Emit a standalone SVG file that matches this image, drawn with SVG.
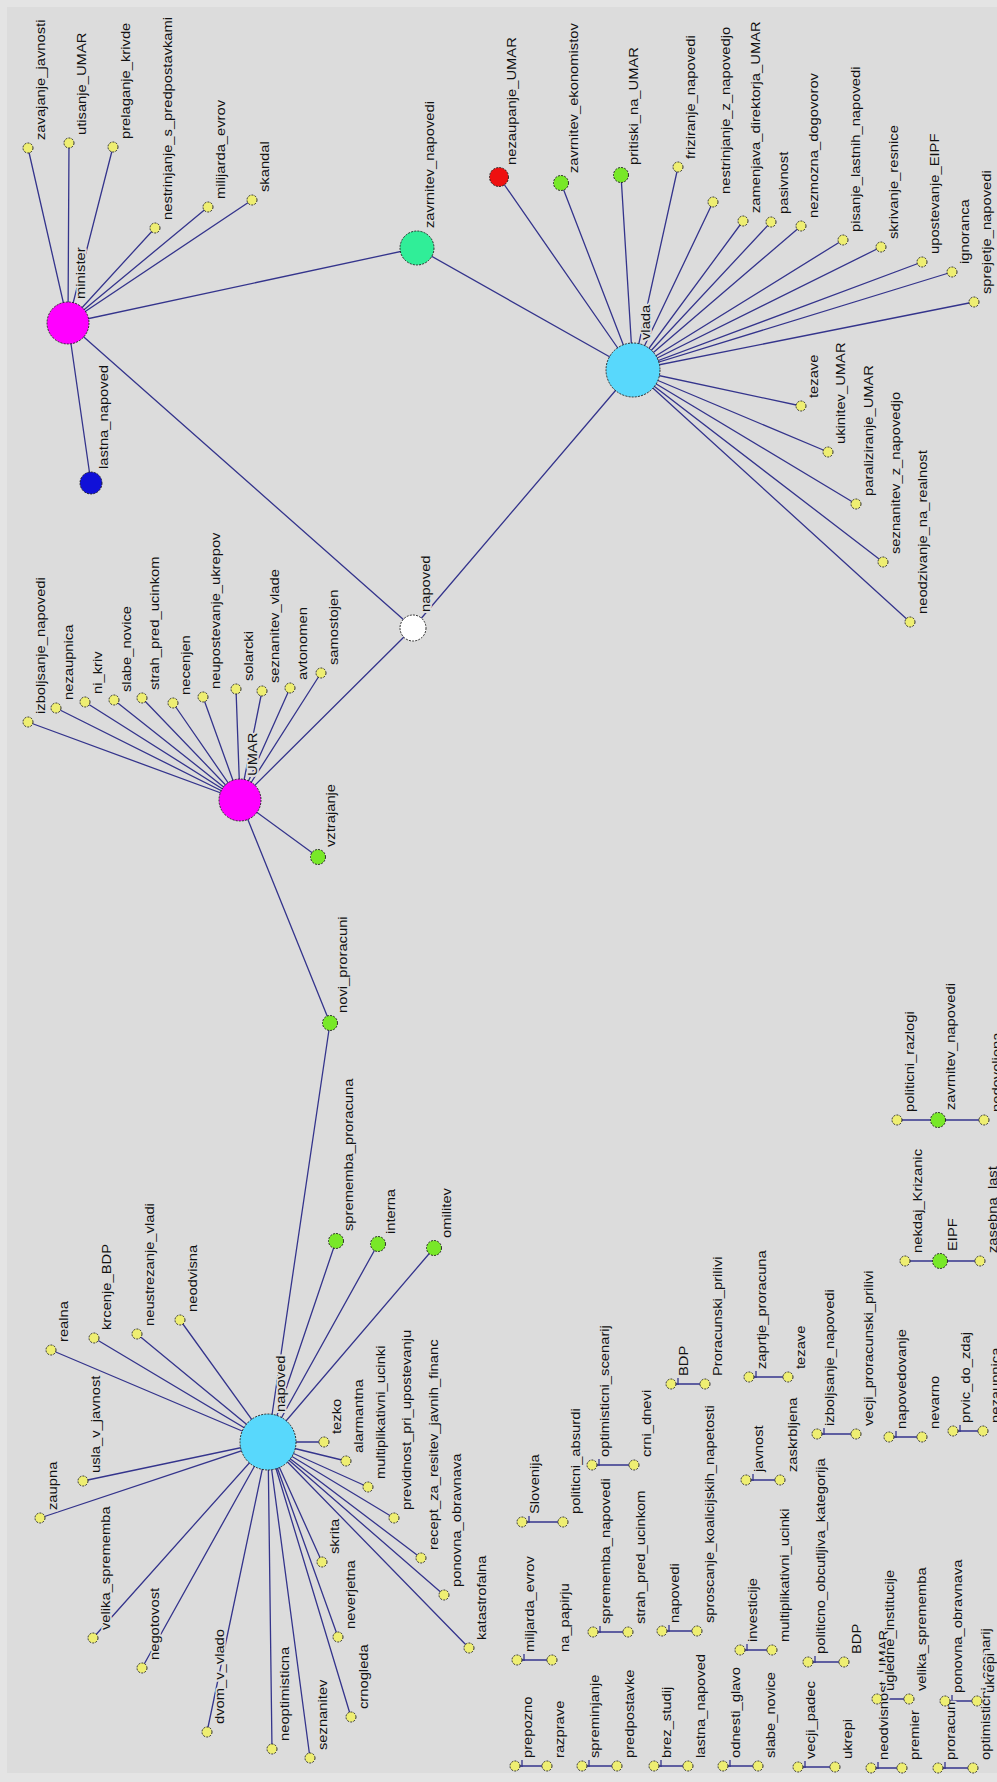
<svg xmlns="http://www.w3.org/2000/svg" width="997" height="1782" viewBox="0 0 997 1782">
<style>
.e{stroke:#34348c;stroke-width:1.3;fill:none}
.n{stroke:#1e1e1e;stroke-width:0.9;stroke-dasharray:2 1.2}
.y{fill:#eeee72}
.g{fill:#78e828}
.m{fill:#ff00ff}
.c{fill:#58d8fc}
.r{fill:#ee1010}
.b{fill:#1010d8}
.t{fill:#30ee98}
.w{fill:#ffffff}
text{font-family:"Liberation Sans",Arial,sans-serif;font-size:12.5px;fill:#111;stroke:#dcdcdc;stroke-width:3.5px;paint-order:stroke;stroke-linejoin:round}
</style>
<rect width="997" height="1782" fill="#e4e4e4"/>
<rect x="7" y="7" width="990" height="1766" fill="#dcdcdc"/>
<g id="connectors">
<path class="e" d="M68 323L28 148M68 323L69 143M68 323L113 147M68 323L155 228M68 323L208 207M68 323L252 200M68 323L91 483M68 323L417 248M68 323L413 628"/>
<path class="e" d="M633 370L417 248M633 370L413 628M633 370L499 177M633 370L561 183M633 370L621 175M633 370L678 167M633 370L713 202M633 370L743 221M633 370L771 222M633 370L801 226M633 370L843 240M633 370L881 247M633 370L922 262M633 370L952 272M633 370L974 302M633 370L801 406M633 370L828 452M633 370L856 504M633 370L883 562M633 370L910 622"/>
<path class="e" d="M240 800L413 628M240 800L330 1023M240 800L318 857M240 800L28 722M240 800L56 708M240 800L85 702M240 800L114 700M240 800L142 698M240 800L173 703M240 800L203 697M240 800L236 689M240 800L262 691M240 800L290 688M240 800L321 673"/>
<path class="e" d="M268 1442L330 1023M268 1442L336 1241M268 1442L378 1244M268 1442L434 1248M268 1442L51 1350M268 1442L94 1338M268 1442L137 1334M268 1442L180 1320M268 1442L40 1518M268 1442L83 1481M268 1442L93 1638M268 1442L142 1668M268 1442L207 1732M268 1442L272 1749M268 1442L310 1758M268 1442L351 1717M268 1442L338 1637M268 1442L322 1562M268 1442L324 1442M268 1442L346 1461M268 1442L368 1487M268 1442L394 1518M268 1442L421 1558M268 1442L444 1595M268 1442L469 1648"/>
<path class="e" d="M515 1766H547M582 1766H617M654 1766H688M723 1766H758M798 1767H835M871 1768H902M938 1768H973M517 1660H552M593 1632H628M662 1631H697M740 1650H772M808 1662H844M877 1699H909M945 1701H977M522 1522H563M592 1465H634M671 1384H705M746 1480H780M817 1434H856M889 1437H922M953 1431H983M749 1377H788M897 1120H984M905 1261H980"/>
<path class="e" d="M522 1760v7M589 1760v7M661 1760v7M730 1760v7M805 1761v7M878 1762v7M945 1762v7M524 1654v7M600 1626v7M669 1625v7M747 1644v7M815 1656v7M884 1693v7M952 1695v7M529 1516v7M599 1459v7M678 1378v7M753 1474v7M824 1428v7M896 1431v7M960 1425v7M756 1371v7"/>
</g>
<g id="minister"><circle class="n m" cx="68" cy="323" r="21"/><text transform="translate(85 299) rotate(-90) scale(1.18 1)">minister</text></g>
<g id="zavajanje_javnosti"><circle class="n y" cx="28" cy="148" r="5"/><text transform="translate(45 140) rotate(-90) scale(1.18 1)">zavajanje_javnosti</text></g>
<g id="utisanje_UMAR"><circle class="n y" cx="69" cy="143" r="5"/><text transform="translate(86 135) rotate(-90) scale(1.18 1)">utisanje_UMAR</text></g>
<g id="prelaganje_krivde"><circle class="n y" cx="113" cy="147" r="5"/><text transform="translate(130 139) rotate(-90) scale(1.18 1)">prelaganje_krivde</text></g>
<g id="nestrinjanje_s_predpostavkami"><circle class="n y" cx="155" cy="228" r="5"/><text transform="translate(172 220) rotate(-90) scale(1.18 1)">nestrinjanje_s_predpostavkami</text></g>
<g id="milijarda_evrov"><circle class="n y" cx="208" cy="207" r="5"/><text transform="translate(225 199) rotate(-90) scale(1.18 1)">milijarda_evrov</text></g>
<g id="skandal"><circle class="n y" cx="252" cy="200" r="5"/><text transform="translate(269 192) rotate(-90) scale(1.18 1)">skandal</text></g>
<g id="lastna_napoved_1"><circle class="n b" cx="91" cy="483" r="11"/><text transform="translate(108 469) rotate(-90) scale(1.18 1)">lastna_napoved</text></g>
<g id="zavrnitev_napovedi_1"><circle class="n t" cx="417" cy="248" r="17"/><text transform="translate(434 228) rotate(-90) scale(1.18 1)">zavrnitev_napovedi</text></g>
<g id="napoved_1"><circle class="n w" cx="413" cy="628" r="13"/><text transform="translate(430 612) rotate(-90) scale(1.18 1)">napoved</text></g>
<g id="vlada"><circle class="n c" cx="633" cy="370" r="27"/><text transform="translate(650 340) rotate(-90) scale(1.18 1)">vlada</text></g>
<g id="nezaupanje_UMAR"><circle class="n r" cx="499" cy="177" r="9.5"/><text transform="translate(516 165) rotate(-90) scale(1.18 1)">nezaupanje_UMAR</text></g>
<g id="zavrnitev_ekonomistov"><circle class="n g" cx="561" cy="183" r="7.5"/><text transform="translate(578 173) rotate(-90) scale(1.18 1)">zavrnitev_ekonomistov</text></g>
<g id="pritiski_na_UMAR"><circle class="n g" cx="621" cy="175" r="7.5"/><text transform="translate(638 165) rotate(-90) scale(1.18 1)">pritiski_na_UMAR</text></g>
<g id="friziranje_napovedi"><circle class="n y" cx="678" cy="167" r="5"/><text transform="translate(695 159) rotate(-90) scale(1.18 1)">friziranje_napovedi</text></g>
<g id="nestrinjanje_z_napovedjo"><circle class="n y" cx="713" cy="202" r="5"/><text transform="translate(730 194) rotate(-90) scale(1.18 1)">nestrinjanje_z_napovedjo</text></g>
<g id="zamenjava_direktorja_UMAR"><circle class="n y" cx="743" cy="221" r="5"/><text transform="translate(760 213) rotate(-90) scale(1.18 1)">zamenjava_direktorja_UMAR</text></g>
<g id="pasivnost"><circle class="n y" cx="771" cy="222" r="5"/><text transform="translate(788 214) rotate(-90) scale(1.18 1)">pasivnost</text></g>
<g id="nezmozna_dogovorov"><circle class="n y" cx="801" cy="226" r="5"/><text transform="translate(818 218) rotate(-90) scale(1.18 1)">nezmozna_dogovorov</text></g>
<g id="pisanje_lastnih_napovedi"><circle class="n y" cx="843" cy="240" r="5"/><text transform="translate(860 232) rotate(-90) scale(1.18 1)">pisanje_lastnih_napovedi</text></g>
<g id="skrivanje_resnice"><circle class="n y" cx="881" cy="247" r="5"/><text transform="translate(898 239) rotate(-90) scale(1.18 1)">skrivanje_resnice</text></g>
<g id="upostevanje_EIPF"><circle class="n y" cx="922" cy="262" r="5"/><text transform="translate(939 254) rotate(-90) scale(1.18 1)">upostevanje_EIPF</text></g>
<g id="ignoranca"><circle class="n y" cx="952" cy="272" r="5"/><text transform="translate(969 264) rotate(-90) scale(1.18 1)">ignoranca</text></g>
<g id="sprejetje_napovedi"><circle class="n y" cx="974" cy="302" r="5"/><text transform="translate(991 294) rotate(-90) scale(1.18 1)">sprejetje_napovedi</text></g>
<g id="tezave_1"><circle class="n y" cx="801" cy="406" r="5"/><text transform="translate(818 398) rotate(-90) scale(1.18 1)">tezave</text></g>
<g id="ukinitev_UMAR"><circle class="n y" cx="828" cy="452" r="5"/><text transform="translate(845 444) rotate(-90) scale(1.18 1)">ukinitev_UMAR</text></g>
<g id="paraliziranje_UMAR"><circle class="n y" cx="856" cy="504" r="5"/><text transform="translate(873 496) rotate(-90) scale(1.18 1)">paraliziranje_UMAR</text></g>
<g id="seznanitev_z_napovedjo"><circle class="n y" cx="883" cy="562" r="5"/><text transform="translate(900 554) rotate(-90) scale(1.18 1)">seznanitev_z_napovedjo</text></g>
<g id="neodzivanje_na_realnost"><circle class="n y" cx="910" cy="622" r="5"/><text transform="translate(927 614) rotate(-90) scale(1.18 1)">neodzivanje_na_realnost</text></g>
<g id="UMAR"><circle class="n m" cx="240" cy="800" r="21"/><text transform="translate(257 776) rotate(-90) scale(1.18 1)">UMAR</text></g>
<g id="izboljsanje_napovedi_1"><circle class="n y" cx="28" cy="722" r="5"/><text transform="translate(45 714) rotate(-90) scale(1.18 1)">izboljsanje_napovedi</text></g>
<g id="nezaupnica_1"><circle class="n y" cx="56" cy="708" r="5"/><text transform="translate(73 700) rotate(-90) scale(1.18 1)">nezaupnica</text></g>
<g id="ni_kriv"><circle class="n y" cx="85" cy="702" r="5"/><text transform="translate(102 694) rotate(-90) scale(1.18 1)">ni_kriv</text></g>
<g id="slabe_novice_1"><circle class="n y" cx="114" cy="700" r="5"/><text transform="translate(131 692) rotate(-90) scale(1.18 1)">slabe_novice</text></g>
<g id="strah_pred_ucinkom_1"><circle class="n y" cx="142" cy="698" r="5"/><text transform="translate(159 690) rotate(-90) scale(1.18 1)">strah_pred_ucinkom</text></g>
<g id="necenjen"><circle class="n y" cx="173" cy="703" r="5"/><text transform="translate(190 695) rotate(-90) scale(1.18 1)">necenjen</text></g>
<g id="neupostevanje_ukrepov"><circle class="n y" cx="203" cy="697" r="5"/><text transform="translate(220 689) rotate(-90) scale(1.18 1)">neupostevanje_ukrepov</text></g>
<g id="solarcki"><circle class="n y" cx="236" cy="689" r="5"/><text transform="translate(253 681) rotate(-90) scale(1.18 1)">solarcki</text></g>
<g id="seznanitev_vlade"><circle class="n y" cx="262" cy="691" r="5"/><text transform="translate(279 683) rotate(-90) scale(1.18 1)">seznanitev_vlade</text></g>
<g id="avtonomen"><circle class="n y" cx="290" cy="688" r="5"/><text transform="translate(307 680) rotate(-90) scale(1.18 1)">avtonomen</text></g>
<g id="samostojen"><circle class="n y" cx="321" cy="673" r="5"/><text transform="translate(338 665) rotate(-90) scale(1.18 1)">samostojen</text></g>
<g id="vztrajanje"><circle class="n g" cx="318" cy="857" r="7.5"/><text transform="translate(335 847) rotate(-90) scale(1.18 1)">vztrajanje</text></g>
<g id="novi_proracuni"><circle class="n g" cx="330" cy="1023" r="7.5"/><text transform="translate(347 1013) rotate(-90) scale(1.18 1)">novi_proracuni</text></g>
<g id="napoved_2"><circle class="n c" cx="268" cy="1442" r="28"/><text transform="translate(285 1412) rotate(-90) scale(1.18 1)">napoved</text></g>
<g id="sprememba_proracuna"><circle class="n g" cx="336" cy="1241" r="7.5"/><text transform="translate(353 1231) rotate(-90) scale(1.18 1)">sprememba_proracuna</text></g>
<g id="interna"><circle class="n g" cx="378" cy="1244" r="7.5"/><text transform="translate(395 1234) rotate(-90) scale(1.18 1)">interna</text></g>
<g id="omilitev"><circle class="n g" cx="434" cy="1248" r="7.5"/><text transform="translate(451 1238) rotate(-90) scale(1.18 1)">omilitev</text></g>
<g id="realna"><circle class="n y" cx="51" cy="1350" r="5"/><text transform="translate(68 1342) rotate(-90) scale(1.18 1)">realna</text></g>
<g id="krcenje_BDP"><circle class="n y" cx="94" cy="1338" r="5"/><text transform="translate(111 1330) rotate(-90) scale(1.18 1)">krcenje_BDP</text></g>
<g id="neustrezanje_vladi"><circle class="n y" cx="137" cy="1334" r="5"/><text transform="translate(154 1326) rotate(-90) scale(1.18 1)">neustrezanje_vladi</text></g>
<g id="neodvisna"><circle class="n y" cx="180" cy="1320" r="5"/><text transform="translate(197 1312) rotate(-90) scale(1.18 1)">neodvisna</text></g>
<g id="zaupna"><circle class="n y" cx="40" cy="1518" r="5"/><text transform="translate(57 1510) rotate(-90) scale(1.18 1)">zaupna</text></g>
<g id="usla_v_javnost"><circle class="n y" cx="83" cy="1481" r="5"/><text transform="translate(100 1473) rotate(-90) scale(1.18 1)">usla_v_javnost</text></g>
<g id="velika_sprememba_1"><circle class="n y" cx="93" cy="1638" r="5"/><text transform="translate(110 1630) rotate(-90) scale(1.18 1)">velika_sprememba</text></g>
<g id="negotovost"><circle class="n y" cx="142" cy="1668" r="5"/><text transform="translate(159 1660) rotate(-90) scale(1.18 1)">negotovost</text></g>
<g id="dvom_v_vlado"><circle class="n y" cx="207" cy="1732" r="5"/><text transform="translate(224 1724) rotate(-90) scale(1.18 1)">dvom_v_vlado</text></g>
<g id="neoptimisticna"><circle class="n y" cx="272" cy="1749" r="5"/><text transform="translate(289 1741) rotate(-90) scale(1.18 1)">neoptimisticna</text></g>
<g id="seznanitev"><circle class="n y" cx="310" cy="1758" r="5"/><text transform="translate(327 1750) rotate(-90) scale(1.18 1)">seznanitev</text></g>
<g id="crnogleda"><circle class="n y" cx="351" cy="1717" r="5"/><text transform="translate(368 1709) rotate(-90) scale(1.18 1)">crnogleda</text></g>
<g id="neverjetna"><circle class="n y" cx="338" cy="1637" r="5"/><text transform="translate(355 1629) rotate(-90) scale(1.18 1)">neverjetna</text></g>
<g id="skrita"><circle class="n y" cx="322" cy="1562" r="5"/><text transform="translate(339 1554) rotate(-90) scale(1.18 1)">skrita</text></g>
<g id="tezko"><circle class="n y" cx="324" cy="1442" r="5"/><text transform="translate(341 1434) rotate(-90) scale(1.18 1)">tezko</text></g>
<g id="alarmantna"><circle class="n y" cx="346" cy="1461" r="5"/><text transform="translate(363 1453) rotate(-90) scale(1.18 1)">alarmantna</text></g>
<g id="multiplikativni_ucinki_1"><circle class="n y" cx="368" cy="1487" r="5"/><text transform="translate(385 1479) rotate(-90) scale(1.18 1)">multiplikativni_ucinki</text></g>
<g id="previdnost_pri_upostevanju"><circle class="n y" cx="394" cy="1518" r="5"/><text transform="translate(411 1510) rotate(-90) scale(1.18 1)">previdnost_pri_upostevanju</text></g>
<g id="recept_za_resitev_javnih_financ"><circle class="n y" cx="421" cy="1558" r="5"/><text transform="translate(438 1550) rotate(-90) scale(1.18 1)">recept_za_resitev_javnih_financ</text></g>
<g id="ponovna_obravnava_1"><circle class="n y" cx="444" cy="1595" r="5"/><text transform="translate(461 1587) rotate(-90) scale(1.18 1)">ponovna_obravnava</text></g>
<g id="katastrofalna"><circle class="n y" cx="469" cy="1648" r="5"/><text transform="translate(486 1640) rotate(-90) scale(1.18 1)">katastrofalna</text></g>
<g id="prepozno"><circle class="n y" cx="515" cy="1766" r="5"/><text transform="translate(532 1758) rotate(-90) scale(1.18 1)">prepozno</text></g>
<g id="razprave"><circle class="n y" cx="547" cy="1766" r="5"/><text transform="translate(564 1758) rotate(-90) scale(1.18 1)">razprave</text></g>
<g id="spreminjanje"><circle class="n y" cx="582" cy="1766" r="5"/><text transform="translate(599 1758) rotate(-90) scale(1.18 1)">spreminjanje</text></g>
<g id="predpostavke"><circle class="n y" cx="617" cy="1766" r="5"/><text transform="translate(634 1758) rotate(-90) scale(1.18 1)">predpostavke</text></g>
<g id="brez_studij"><circle class="n y" cx="654" cy="1766" r="5"/><text transform="translate(671 1758) rotate(-90) scale(1.18 1)">brez_studij</text></g>
<g id="lastna_napoved_2"><circle class="n y" cx="688" cy="1766" r="5"/><text transform="translate(705 1758) rotate(-90) scale(1.18 1)">lastna_napoved</text></g>
<g id="odnesti_glavo"><circle class="n y" cx="723" cy="1766" r="5"/><text transform="translate(740 1758) rotate(-90) scale(1.18 1)">odnesti_glavo</text></g>
<g id="slabe_novice_2"><circle class="n y" cx="758" cy="1766" r="5"/><text transform="translate(775 1758) rotate(-90) scale(1.18 1)">slabe_novice</text></g>
<g id="vecji_padec"><circle class="n y" cx="798" cy="1767" r="5"/><text transform="translate(815 1759) rotate(-90) scale(1.18 1)">vecji_padec</text></g>
<g id="ukrepi_1"><circle class="n y" cx="835" cy="1767" r="5"/><text transform="translate(852 1759) rotate(-90) scale(1.18 1)">ukrepi</text></g>
<g id="neodvisnost_UMAR"><circle class="n y" cx="871" cy="1768" r="5"/><text transform="translate(888 1760) rotate(-90) scale(1.18 1)">neodvisnost_UMAR</text></g>
<g id="premier"><circle class="n y" cx="902" cy="1768" r="5"/><text transform="translate(919 1760) rotate(-90) scale(1.18 1)">premier</text></g>
<g id="proracun"><circle class="n y" cx="938" cy="1768" r="5"/><text transform="translate(955 1760) rotate(-90) scale(1.18 1)">proracun</text></g>
<g id="optimisticni_scenarij_1"><circle class="n y" cx="973" cy="1768" r="5"/><text transform="translate(990 1760) rotate(-90) scale(1.18 1)">optimisticni_scenarij</text></g>
<g id="miljarda_evrov"><circle class="n y" cx="517" cy="1660" r="5"/><text transform="translate(534 1652) rotate(-90) scale(1.18 1)">miljarda_evrov</text></g>
<g id="na_papirju"><circle class="n y" cx="552" cy="1660" r="5"/><text transform="translate(569 1652) rotate(-90) scale(1.18 1)">na_papirju</text></g>
<g id="sprememba_napovedi"><circle class="n y" cx="593" cy="1632" r="5"/><text transform="translate(610 1624) rotate(-90) scale(1.18 1)">sprememba_napovedi</text></g>
<g id="strah_pred_ucinkom_2"><circle class="n y" cx="628" cy="1632" r="5"/><text transform="translate(645 1624) rotate(-90) scale(1.18 1)">strah_pred_ucinkom</text></g>
<g id="napovedi"><circle class="n y" cx="662" cy="1631" r="5"/><text transform="translate(679 1623) rotate(-90) scale(1.18 1)">napovedi</text></g>
<g id="sproscanje_koalicijskih_napetosti"><circle class="n y" cx="697" cy="1631" r="5"/><text transform="translate(714 1623) rotate(-90) scale(1.18 1)">sproscanje_koalicijskih_napetosti</text></g>
<g id="investicije"><circle class="n y" cx="740" cy="1650" r="5"/><text transform="translate(757 1642) rotate(-90) scale(1.18 1)">investicije</text></g>
<g id="multiplikativni_ucinki_2"><circle class="n y" cx="772" cy="1650" r="5"/><text transform="translate(789 1642) rotate(-90) scale(1.18 1)">multiplikativni_ucinki</text></g>
<g id="politicno_obcutljiva_kategorija"><circle class="n y" cx="808" cy="1662" r="5"/><text transform="translate(825 1654) rotate(-90) scale(1.18 1)">politicno_obcutljiva_kategorija</text></g>
<g id="BDP_1"><circle class="n y" cx="844" cy="1662" r="5"/><text transform="translate(861 1654) rotate(-90) scale(1.18 1)">BDP</text></g>
<g id="ugledne_institucije"><circle class="n y" cx="877" cy="1699" r="5"/><text transform="translate(894 1691) rotate(-90) scale(1.18 1)">ugledne_institucije</text></g>
<g id="velika_sprememba_2"><circle class="n y" cx="909" cy="1699" r="5"/><text transform="translate(926 1691) rotate(-90) scale(1.18 1)">velika_sprememba</text></g>
<g id="ponovna_obravnava_2"><circle class="n y" cx="945" cy="1701" r="5"/><text transform="translate(962 1693) rotate(-90) scale(1.18 1)">ponovna_obravnava</text></g>
<g id="ukrepi_2"><circle class="n y" cx="977" cy="1701" r="5"/><text transform="translate(994 1693) rotate(-90) scale(1.18 1)">ukrepi</text></g>
<g id="Slovenija"><circle class="n y" cx="522" cy="1522" r="5"/><text transform="translate(539 1514) rotate(-90) scale(1.18 1)">Slovenija</text></g>
<g id="politicni_absurdi"><circle class="n y" cx="563" cy="1522" r="5"/><text transform="translate(580 1514) rotate(-90) scale(1.18 1)">politicni_absurdi</text></g>
<g id="optimisticni_scenarij_2"><circle class="n y" cx="592" cy="1465" r="5"/><text transform="translate(609 1457) rotate(-90) scale(1.18 1)">optimisticni_scenarij</text></g>
<g id="crni_dnevi"><circle class="n y" cx="634" cy="1465" r="5"/><text transform="translate(651 1457) rotate(-90) scale(1.18 1)">crni_dnevi</text></g>
<g id="BDP_2"><circle class="n y" cx="671" cy="1384" r="5"/><text transform="translate(688 1376) rotate(-90) scale(1.18 1)">BDP</text></g>
<g id="Proracunski_prilivi"><circle class="n y" cx="705" cy="1384" r="5"/><text transform="translate(722 1376) rotate(-90) scale(1.18 1)">Proracunski_prilivi</text></g>
<g id="javnost"><circle class="n y" cx="746" cy="1480" r="5"/><text transform="translate(763 1472) rotate(-90) scale(1.18 1)">javnost</text></g>
<g id="zaskrbljena"><circle class="n y" cx="780" cy="1480" r="5"/><text transform="translate(797 1472) rotate(-90) scale(1.18 1)">zaskrbljena</text></g>
<g id="izboljsanje_napovedi_2"><circle class="n y" cx="817" cy="1434" r="5"/><text transform="translate(834 1426) rotate(-90) scale(1.18 1)">izboljsanje_napovedi</text></g>
<g id="vecji_proracunski_prilivi"><circle class="n y" cx="856" cy="1434" r="5"/><text transform="translate(873 1426) rotate(-90) scale(1.18 1)">vecji_proracunski_prilivi</text></g>
<g id="napovedovanje"><circle class="n y" cx="889" cy="1437" r="5"/><text transform="translate(906 1429) rotate(-90) scale(1.18 1)">napovedovanje</text></g>
<g id="nevarno"><circle class="n y" cx="922" cy="1437" r="5"/><text transform="translate(939 1429) rotate(-90) scale(1.18 1)">nevarno</text></g>
<g id="prvic_do_zdaj"><circle class="n y" cx="953" cy="1431" r="5"/><text transform="translate(970 1423) rotate(-90) scale(1.18 1)">prvic_do_zdaj</text></g>
<g id="nezaupnica_2"><circle class="n y" cx="983" cy="1431" r="5"/><text transform="translate(1000 1423) rotate(-90) scale(1.18 1)">nezaupnica</text></g>
<g id="zaprtje_proracuna"><circle class="n y" cx="749" cy="1377" r="5"/><text transform="translate(766 1369) rotate(-90) scale(1.18 1)">zaprtje_proracuna</text></g>
<g id="tezave_2"><circle class="n y" cx="788" cy="1377" r="5"/><text transform="translate(805 1369) rotate(-90) scale(1.18 1)">tezave</text></g>
<g id="politicni_razlogi"><circle class="n y" cx="897" cy="1120" r="5"/><text transform="translate(914 1112) rotate(-90) scale(1.18 1)">politicni_razlogi</text></g>
<g id="zavrnitev_napovedi_2"><circle class="n g" cx="938" cy="1120" r="7.5"/><text transform="translate(955 1110) rotate(-90) scale(1.18 1)">zavrnitev_napovedi</text></g>
<g id="nedovoljena"><circle class="n y" cx="984" cy="1120" r="5"/><text transform="translate(1001 1112) rotate(-90) scale(1.18 1)">nedovoljena</text></g>
<g id="nekdaj_Krizanic"><circle class="n y" cx="905" cy="1261" r="5"/><text transform="translate(922 1253) rotate(-90) scale(1.18 1)">nekdaj_Krizanic</text></g>
<g id="EIPF"><circle class="n g" cx="940" cy="1261" r="7.5"/><text transform="translate(957 1251) rotate(-90) scale(1.18 1)">EIPF</text></g>
<g id="zasebna_last"><circle class="n y" cx="980" cy="1261" r="5"/><text transform="translate(997 1253) rotate(-90) scale(1.18 1)">zasebna_last</text></g>
</svg>
